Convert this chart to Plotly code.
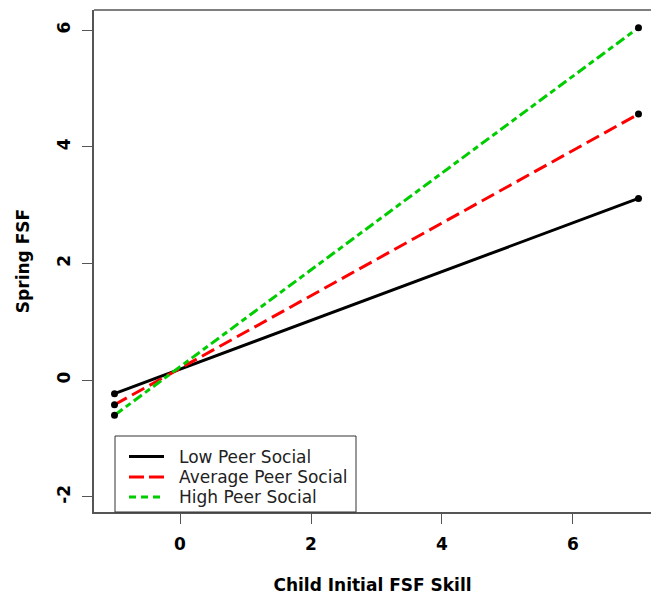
import plotly.graph_objects as go

# Predicted Spring FSF at the two ends of Child Initial FSF Skill
x_ends = [-1, 7]
low_peer = [-0.23, 3.115]
avg_peer = [-0.42, 4.56]
high_peer = [-0.60, 6.04]

series_names = ["Low Peer Social", "Average Peer Social", "High Peer Social"]
series_values = [low_peer, avg_peer, high_peer]
series_colors = ["#000000", "#ff0000", "#00cd00"]
series_dash = ["solid", "14px,6px", "10px,4px,6px,4px"]

x_ticks = [0, 2, 4, 6]
y_ticks = [-2, 0, 2, 4, 6]
y_tick_text = ["-2", "0", "2", "4", "6"]

FONT = "DejaVu Sans"
W, H = 651, 597
M_L, M_R, M_T, M_B = 94, 0, 10, 85
PW, PH = W - M_L - M_R, H - M_T - M_B

fig = go.Figure()

for name, vals, col, dash in zip(series_names, series_values, series_colors, series_dash):
    fig.add_trace(go.Scatter(
        x=x_ends, y=vals, mode="lines", name=name, showlegend=False,
        line=dict(color=col, width=3, dash=dash),
    ))

# black end points for every line
for vals in series_values:
    fig.add_trace(go.Scatter(
        x=x_ends, y=vals, mode="markers", showlegend=False,
        marker=dict(color="black", size=7), hoverinfo="skip",
    ))

axis_col = "#555555"

fig.update_layout(
    width=W, height=H,
    margin=dict(l=M_L, r=M_R, t=M_T, b=M_B),
    paper_bgcolor="white", plot_bgcolor="white",
    font=dict(family=FONT, color="black"),
    xaxis=dict(
        range=[-1.313, 7.191], tickvals=x_ticks,
        ticks="outside", ticklen=10, tickcolor=axis_col, tickwidth=1.2,
        showgrid=False, zeroline=False,
        showline=True, linecolor=axis_col, linewidth=1.5,
        tickfont=dict(size=17, family=FONT, weight="bold"),
        ticklabelstandoff=6,
        title=dict(text="<b>Child Initial FSF Skill</b>", font=dict(size=17), standoff=26),
        automargin=False,
    ),
    yaxis=dict(
        range=[-2.258, 6.343], tickvals=y_ticks, ticktext=y_tick_text, tickangle=-90,
        ticks="outside", ticklen=10, tickcolor=axis_col, tickwidth=1.2,
        showgrid=False, zeroline=False,
        showline=True, linecolor=axis_col, linewidth=1.5,
        tickfont=dict(size=17, family=FONT, weight="bold"),
        ticklabelstandoff=5,
        title=dict(text="<b>Spring FSF</b>", font=dict(size=17), standoff=21),
        automargin=False,
    ),
    showlegend=False,
)

# top edge of the plotting box
fig.add_shape(type="line", xref="paper", yref="paper", x0=0, x1=1, y0=1, y1=1,
              line=dict(color=axis_col, width=1.5))


# legend panel in the lower-left corner (pixel layout converted to paper units)
def px_x(px):
    return (px - M_L) / PW


def px_y(py):
    return (H - M_B - py) / PH


fig.add_shape(type="rect", xref="paper", yref="paper",
              x0=px_x(115), x1=px_x(356), y0=px_y(512), y1=px_y(436),
              fillcolor="white", line=dict(color="#333333", width=1), layer="above")

row_y = [456.5, 477, 497]
for name, col, dash, ry in zip(series_names, series_colors,
                               ["solid", "15px,5px", "7px,5px,7px,5px"], row_y):
    fig.add_shape(type="line", xref="paper", yref="paper",
                  x0=px_x(129), x1=px_x(164), y0=px_y(ry), y1=px_y(ry),
                  line=dict(color=col, width=3, dash=dash), layer="above")
    fig.add_annotation(xref="paper", yref="paper", x=px_x(177), y=px_y(ry),
                       text=name, showarrow=False, xanchor="left", yanchor="middle",
                       font=dict(size=17, family=FONT, color="#222222"))

fig.write_html("out.html")
